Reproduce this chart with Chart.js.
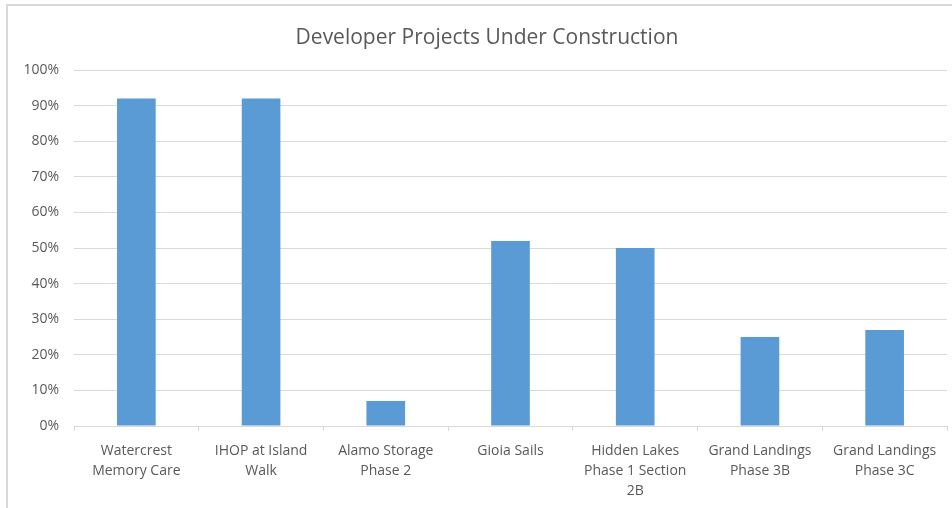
<!DOCTYPE html>
<html>
<head>
<meta charset="utf-8">
<script src="https://cdn.jsdelivr.net/npm/chart.js@4"></script>
<style>
  html, body { margin: 0; padding: 0; width: 952px; height: 508px; overflow: hidden; background: #fff; }
  .frame { position: absolute; left: 6px; top: 4px; width: 1000px; height: 520px; border: 2px solid #d9d9d9; }
  canvas { display: block; }
</style>
</head>
<body>
<div class="frame"><canvas id="chart" width="1000" height="520"></canvas></div>
<script>
const projects = [
    ['Watercrest', 'Memory Care'],
    ['IHOP at Island', 'Walk'],
    ['Alamo Storage', 'Phase 2'],
    'Gioia Sails',
    ['Hidden Lakes', 'Phase 1 Section', '2B'],
    ['Grand Landings', 'Phase 3B'],
    ['Grand Landings', 'Phase 3C']
];
const percentComplete = [92, 92, 7, 52, 50, 25, 27];
const yTicks = [0, 10, 20, 30, 40, 50, 60, 70, 80, 90, 100];

const ctx = document.getElementById('chart');
const font = { family: "'Open Sans', sans-serif", size: 14 };

// the frame runs off the right edge, so nudge the title's box to center it like the original
const shiftTitle = {
    id: 'shiftTitle',
    afterLayout(chart) {
        chart.titleBlock.left += 19;
    }
};

new Chart(ctx, {
    type: 'bar',
    data: {
        labels: projects,
        datasets: [{
            data: percentComplete,
            backgroundColor: '#5b9bd5',
            barPercentage: 0.31,
            categoryPercentage: 1
        }]
    },
    options: {
        responsive: false,
        animation: false,
        layout: { padding: { left: 0, right: 61, top: 0, bottom: 0 } },
        plugins: {
            legend: { display: false },
            tooltip: { enabled: false },
            title: {
                display: true,
                text: 'Developer Projects Under Construction',
                color: '#595959',
                font: { family: "'Open Sans', sans-serif", size: 21, weight: 'normal', lineHeight: 1.2 },
                padding: { top: 19, bottom: 19.8 }
            }
        },
        scales: {
            x: {
                grid: { display: true, drawOnChartArea: false, drawTicks: true, tickLength: 5, color: '#d9d9d9', offset: true },
                border: { color: '#d9d9d9' },
                ticks: { color: '#595959', font: { ...font, lineHeight: 20 / 14 }, padding: 10, maxRotation: 0, autoSkip: false },
                afterFit: s => { s.height = 100; }
            },
            y: {
                min: 0,
                max: 100,
                afterBuildTicks: s => { s.ticks = yTicks.map(v => ({ value: v })); },
                grid: { color: '#d9d9d9', drawTicks: false },
                border: { display: false },
                ticks: { color: '#595959', font: font, padding: 15, callback: v => v + '%' },
                afterFit: s => { s.width = 66; }
            }
        }
    },
    plugins: [shiftTitle]
});
</script>
</body>
</html>
